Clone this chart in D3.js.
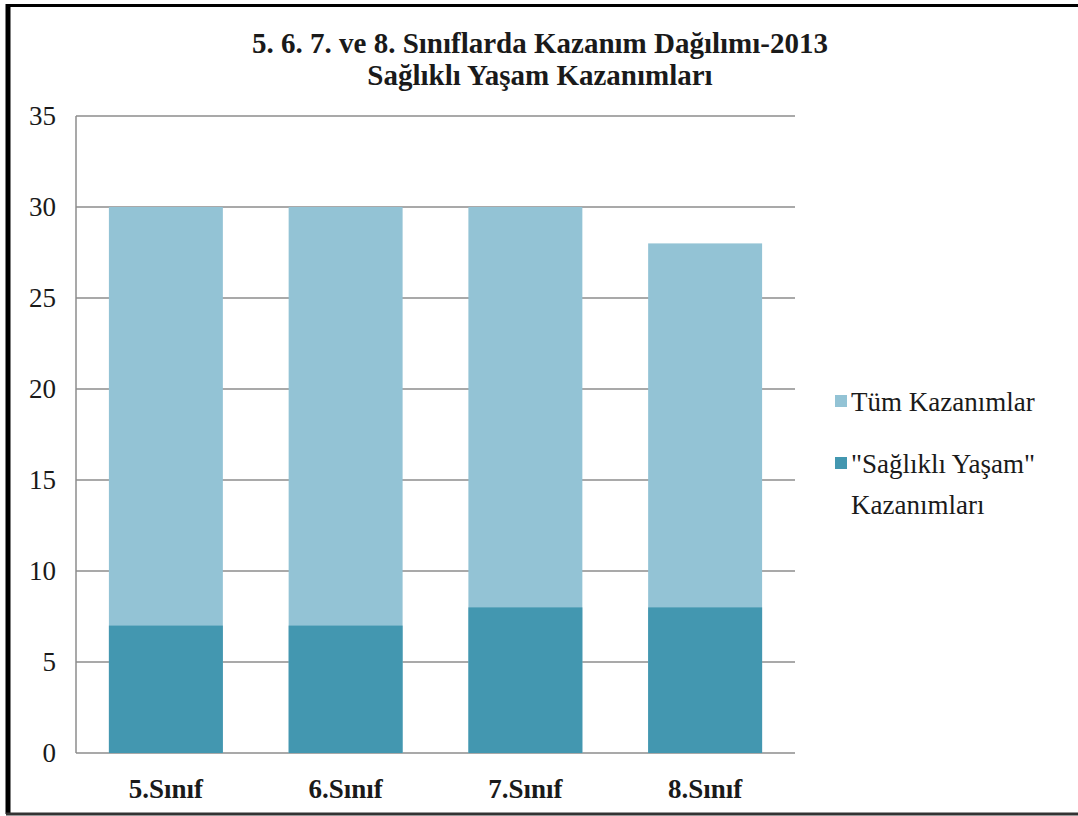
<!DOCTYPE html>
<html>
<head>
<meta charset="utf-8">
<script src="https://cdn.jsdelivr.net/npm/d3@7"></script>
<style>
  body { margin: 0; background: #fff; }
  svg { display: block; }
  svg text { font-family: "Liberation Serif", "Times New Roman", serif; fill: #1a1a1a; }
</style>
</head>
<body>
<svg id="chart" width="1078" height="816"></svg>
<script>
// data
var categories = ["5.Sınıf", "6.Sınıf", "7.Sınıf", "8.Sınıf"];
var allValues = [30, 30, 30, 28];        // Tüm Kazanımlar
var healthValues = [7, 7, 8, 8];         // "Sağlıklı Yaşam" Kazanımları
var yTicks = [0, 5, 10, 15, 20, 25, 30, 35];
var seriesNames = ["Tüm Kazanımlar", ["\"Sağlıklı Yaşam\"", "Kazanımları"]];
var colors = ["#93c3d5", "#4397b0"];

var svg = d3.select("#chart");

// outer frame
svg.append("rect").attr("x", 0).attr("y", 0).attr("width", 1078).attr("height", 816).attr("fill", "#fff");
svg.append("line").attr("x1", 8).attr("x2", 8).attr("y1", 4).attr("y2", 814)
  .attr("stroke", "#000").attr("stroke-width", 5);
svg.append("line").attr("x1", 6).attr("x2", 1078).attr("y1", 5.5).attr("y2", 5.5)
  .attr("stroke", "#000").attr("stroke-width", 3);
svg.append("line").attr("x1", 6).attr("x2", 1078).attr("y1", 814).attr("y2", 814)
  .attr("stroke", "#333").attr("stroke-width", 3);

var margin = {left: 76, top: 116, right: 1078 - 795, bottom: 816 - 753};
var width = 795 - 76, height = 753 - 116;

var g = svg.append("g").attr("transform", "translate(" + margin.left + "," + margin.top + ")");

var x = d3.scaleBand().domain(categories).range([0, width]).paddingInner(0.366).paddingOuter(0.183);
var y = d3.scaleLinear().domain([0, 35]).range([height, 0]);

// grid lines
g.selectAll(".grid").data(yTicks).join("line")
  .attr("class", "grid")
  .attr("x1", 0).attr("x2", width)
  .attr("y1", function(d) { return y(d); }).attr("y2", function(d) { return y(d); })
  .attr("stroke", "#8c8c8c").attr("stroke-width", 1.5);

// vertical axis line
g.append("line").attr("x1", 0).attr("x2", 0).attr("y1", 0).attr("y2", height)
  .attr("stroke", "#8c8c8c").attr("stroke-width", 1.5);

// bars (overlapping, not stacked)
g.selectAll(".bar-all").data(allValues).join("rect")
  .attr("class", "bar-all")
  .attr("x", function(d, i) { return x(categories[i]); })
  .attr("width", x.bandwidth())
  .attr("y", function(d) { return y(d); })
  .attr("height", function(d) { return height - y(d); })
  .attr("fill", colors[0]);

g.selectAll(".bar-health").data(healthValues).join("rect")
  .attr("class", "bar-health")
  .attr("x", function(d, i) { return x(categories[i]); })
  .attr("width", x.bandwidth())
  .attr("y", function(d) { return y(d); })
  .attr("height", function(d) { return height - y(d); })
  .attr("fill", colors[1]);

// y axis labels
var yAxis = d3.axisLeft(y).tickValues(yTicks).tickSize(0).tickPadding(20);
g.append("g").call(yAxis)
  .attr("font-family", null)
  .attr("font-size", 27)
  .call(function(a) { a.select(".domain").remove(); })
  .selectAll("text")
  .style("font-size", "27px")
  .attr("fill", "#1a1a1a");

// x axis labels
var xAxis = d3.axisBottom(x).tickSize(0).tickPadding(26);
g.append("g").attr("transform", "translate(0," + height + ")").call(xAxis)
  .attr("font-family", null)
  .attr("font-size", 27)
  .call(function(a) { a.select(".domain").remove(); })
  .selectAll("text")
  .style("font-size", "27px")
  .style("font-weight", "bold")
  .attr("fill", "#1a1a1a");

// title
var title = svg.append("text").attr("x", 540).attr("text-anchor", "middle")
  .style("font-size", "29px").style("font-weight", "bold");
title.append("tspan").attr("x", 540).attr("y", 53).text("5. 6. 7. ve 8. Sınıflarda Kazanım Dağılımı-2013");
title.append("tspan").attr("x", 540).attr("y", 85).text("Sağlıklı Yaşam Kazanımları");

// legend
var legend = svg.append("g");
var legendY = [401, 463];
seriesNames.forEach(function(name, i) {
  legend.append("rect").attr("x", 835).attr("y", legendY[i] - 6).attr("width", 12).attr("height", 12)
    .attr("fill", colors[i]);
  var lines = Array.isArray(name) ? name : [name];
  var t = legend.append("text").style("font-size", "27px");
  lines.forEach(function(l, j) {
    t.append("tspan").attr("x", 851).attr("y", legendY[i] + 10 + j * 41).text(l);
  });
});
</script>
</body>
</html>
